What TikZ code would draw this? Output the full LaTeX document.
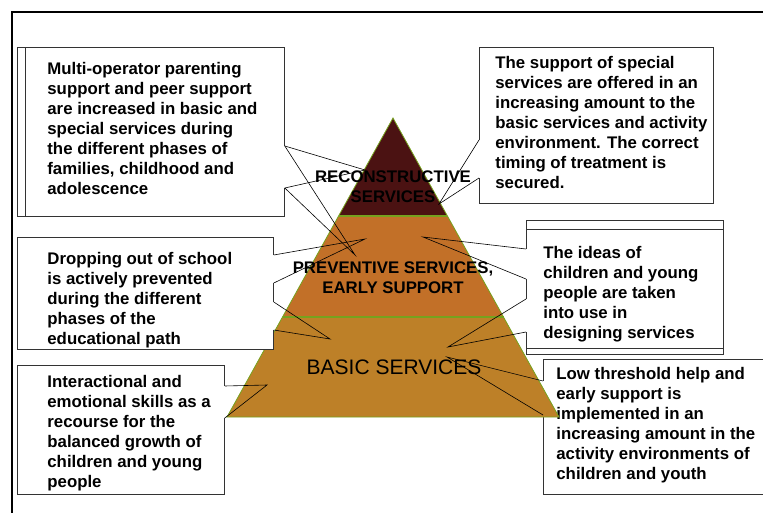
\documentclass[tikz,border=0pt]{standalone}
\usepackage{fontspec}
\setmainfont{Liberation Sans}
\usepackage{tikz}

\definecolor{recon}{HTML}{4B1212}
\definecolor{prev}{HTML}{C27028}
\definecolor{basic}{HTML}{BD8028}
\definecolor{rim}{HTML}{76A21E}

\newcommand{\calltext}[2]{\makebox[#1][l]{\begin{tabular}[t]{@{}l@{}}#2\end{tabular}}}

\tikzset{
	box/.style={draw=black!80,fill=white,line width=0.8pt,anchor=north west,inner ysep=0pt,
		font=\bfseries\fontsize{16.8}{20}\selectfont},
	gap/.style={white,line width=1.6pt},
	wedge/.style={black,line width=0.6pt},
	level/.style={align=center,font=\bfseries\fontsize{16.8}{20}\selectfont}
}

\begin{document}
\begin{tikzpicture}[x=1pt,y=-1pt]
\clip (0,0) rectangle (763,513);
\draw[line width=1.2pt] (12,12) rectangle (800,540);

% box under the pyramid corner
\node[box,inner xsep=13pt,text height=20pt,text depth=115pt] (low) at (543,359)
	{\calltext{197pt}{Low threshold help and\\early support is\\implemented in an\\increasing amount in the\\activity environments of\\children and youth}};
\draw[gap] ([yshift=-22pt]low.north west) -- ([yshift=-56pt]low.north west);

% pyramid
	\coordinate (apex) at (393,118);
	\coordinate (bl) at (227,417);
	\coordinate (br) at (559,417);
	\coordinate (l1) at (338.6,216);
	\coordinate (r1) at (447.4,216);
	\coordinate (l2) at (282.5,317);
	\coordinate (r2) at (503.5,317);

	\fill[recon] (apex) -- (r1) -- (l1) -- cycle;
	\fill[prev] (l1) -- (r1) -- (r2) -- (l2) -- cycle;
	\fill[basic] (l2) -- (r2) -- (br) -- (bl) -- cycle;
	\draw[rim,line width=0.8pt] (apex) -- (br) -- (bl) -- cycle;
	\draw[rim,line width=1.6pt] (l1) -- (r1);
	\draw[rim,line width=1.6pt] (l2) -- (r2);

\node[level] (reconstructive) at (393,187) {RECONSTRUCTIVE\\SERVICES};
\node[level] (preventive) at (393,278) {PREVENTIVE SERVICES,\\EARLY SUPPORT};
\node[font=\fontsize{21}{24}\selectfont] (basic) at (394,367) {BASIC SERVICES};

% callouts
\node[box,minimum width=267pt,minimum height=169pt] (multiback) at (17,47) {};
\node[box,inner xsep=22pt,text height=27pt,text depth=142pt] (multi) at (25,47)
	{\calltext{215pt}{Multi-operator parenting\\support and peer support\\are increased in basic and\\special services during\\the different phases of\\families, childhood and\\adolescence}};
\node[box,inner xsep=30pt,text height=27pt,text depth=85pt] (drop) at (17,237)
	{\calltext{196pt}{Dropping out of school\\is actively prevented\\during the different\\phases of the\\educational path}};
\node[box,inner xsep=30pt,text height=22pt,text depth=107pt] (inter) at (17,365)
	{\calltext{147pt}{Interactional and\\emotional skills as a\\recourse for the\\balanced growth of\\children and young\\people}};
\node[box,inner xsep=16pt,text height=21pt,text depth=135pt] (supp) at (479,47)
	{\calltext{202pt}{The support of special\\services are offered in an\\increasing amount to the\\basic services and activity\\environment. The correct\\timing of treatment is\\secured.}};
\node[box,inner xsep=17pt,text height=29pt,text depth=96pt] (ideas) at (526,229)
	{\calltext{163pt}{The ideas of\\children and young\\people are taken\\into use in\\designing services}};
\node[box,fill=none,minimum width=197pt,minimum height=128pt] (ideasback) at (526,220) {};

% wedge tips
	\coordinate (mt1) at (355,255);
	\coordinate (mt2) at (365,170);
	\coordinate (dt1) at (365,239);
	\coordinate (dt2) at (330,339);
	\coordinate (it) at (267,385);
	\coordinate (st) at (439,204);
	\coordinate (et1) at (423,237);
	\coordinate (et2) at (448,347);
	\coordinate (lt) at (447,357);

\draw[gap] ([yshift=-99pt]multi.north east) -- ([yshift=-141pt]multi.north east);
\draw[gap] ([yshift=-18pt]drop.north east) -- ([yshift=-46pt]drop.north east);
\draw[gap] ([yshift=-65pt]drop.north east) -- ([yshift=-93pt]drop.north east);
\draw[gap] ([yshift=-21pt]inter.north east) -- ([yshift=-53pt]inter.north east);
\draw[gap] ([yshift=-93pt]supp.north west) -- ([yshift=-131pt]supp.north west);
\draw[gap] ([yshift=-20pt]ideas.north west) -- ([yshift=-50pt]ideas.north west);
\draw[gap] ([yshift=-70pt]ideas.north west) -- ([yshift=-103pt]ideas.north west);

\draw[wedge] ([yshift=-99pt]multi.north east) -- (mt1) -- ([yshift=-141pt]multi.north east);
\draw[wedge] ([yshift=-99pt]multi.north east) -- (mt2) -- ([yshift=-141pt]multi.north east);
\draw[wedge] ([yshift=-18pt]drop.north east) -- (dt1) -- ([yshift=-46pt]drop.north east);
\draw[wedge] ([yshift=-65pt]drop.north east) -- (dt2) -- ([yshift=-93pt]drop.north east);
\draw[wedge] ([yshift=-21pt]inter.north east) -- (it) -- ([yshift=-53pt]inter.north east);
\draw[wedge] ([yshift=-93pt]supp.north west) -- (st) -- ([yshift=-131pt]supp.north west);
\draw[wedge] ([yshift=-20pt]ideas.north west) -- (et1) -- ([yshift=-50pt]ideas.north west);
\draw[wedge] ([yshift=-70pt]ideas.north west) -- (et2) -- ([yshift=-103pt]ideas.north west);
\draw[wedge] ([yshift=-22pt]low.north west) -- (lt) -- ([yshift=-56pt]low.north west);
\end{tikzpicture}
\end{document}
